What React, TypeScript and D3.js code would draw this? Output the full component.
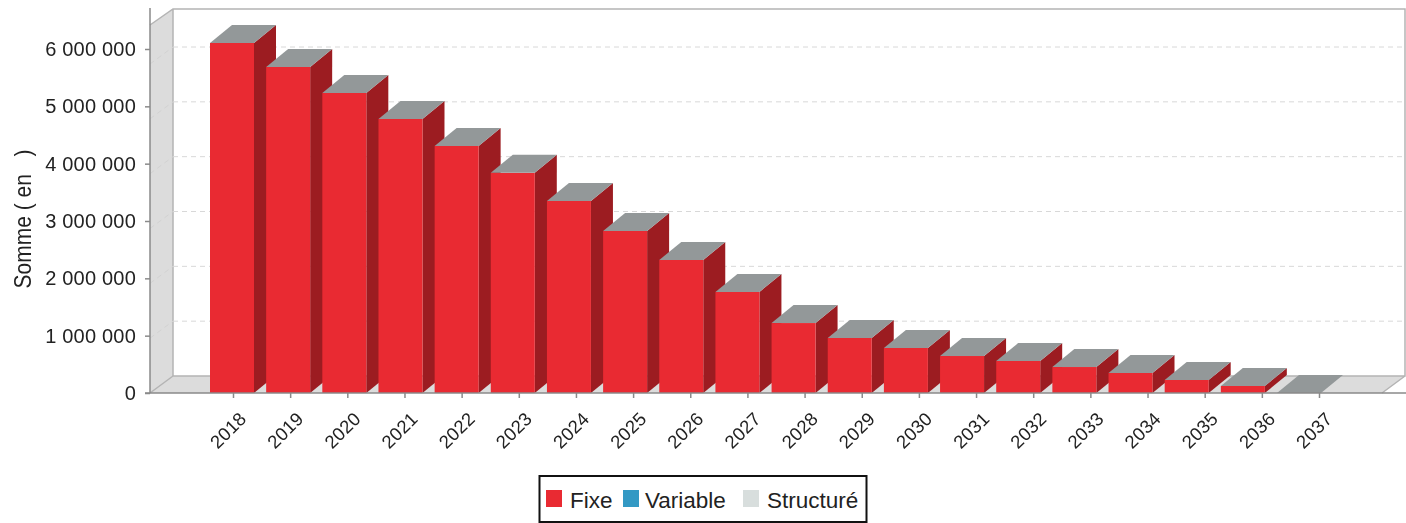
import React, { useEffect, useRef } from 'react'
import * as d3 from 'd3'

const years = ['2018', '2019', '2020', '2021', '2022', '2023', '2024', '2025', '2026', '2027',
  '2028', '2029', '2030', '2031', '2032', '2033', '2034', '2035', '2036', '2037']
const fixe = [6105000, 5686000, 5233000, 4780000, 4310000, 3840000, 3350000, 2826000, 2320000, 1762000,
  1220000, 960000, 785000, 645000, 558000, 453000, 349000, 227000, 122000, 0]
const yTicks = [0, 1000000, 2000000, 3000000, 4000000, 5000000, 6000000]
const legendItems = ['Fixe', 'Variable', 'Structuré']
const legendColors = ['#e92a32', '#3399c4', '#d8dedd']

const layout = { width: 1406, height: 523, left: 150, right: 1382, bottom: 393, top: 25, dx: 23, dy: 17 }
const barWidth = 44
const barDepthX = 22
const barDepthY = 18

const RED = '#e92a32'
const RED_SIDE = '#9c1c21'
const TOP_GREY = '#939899'
const WALL = '#dcdcdc'
const EDGE = '#b4b4b4'
const AXIS = '#8a8a8a'
const TEXT = '#222222'
const FONT = '"Liberation Sans", Arial, sans-serif'

const poly = (pts: number[][]) => pts.map(p => p.join(',')).join(' ')

export default function App() {
  const ref = useRef<SVGSVGElement>(null)

  useEffect(() => {
    const svg = d3.select(ref.current)
    svg.selectAll('*').remove()
    const { left, right, bottom, top, dx, dy } = layout

    // front scale for the bars and the axis, back wall scale for the grid
    const yScale = d3.scaleLinear().domain([0, 6000000]).range([bottom, 49])
    const yBack = d3.scaleLinear().domain([0, 6000000]).range([bottom - dy, 47])
    const xBars = d3.scalePoint().domain(years).range([210, 1277])
    const xTicks = d3.scalePoint().domain(years).range([233, 1319])

    // walls
    svg.append('polygon')
      .attr('points', poly([[left, top], [left + dx, top - 16], [left + dx, bottom - dy], [left, bottom]]))
      .attr('fill', WALL)
    svg.append('polygon')
      .attr('points', poly([[left, bottom], [left + dx, bottom - dy], [right + dx, bottom - dy], [right, bottom]]))
      .attr('fill', WALL)
    svg.append('path')
      .attr('d', `M${left},${top}L${left + dx},${top - 16}H${right + dx}V${bottom - dy}H${left + dx}V${top - 16}M${left + dx},${bottom - dy}L${left},${bottom}M${right + dx},${bottom - dy}L${right},${bottom}`)
      .attr('fill', 'none')
      .attr('stroke', EDGE)
      .attr('stroke-width', 1.5)

    // grid
    const grid = svg.append('g')
    grid.selectAll('.grid')
      .data(yTicks.slice(1))
      .join('line')
      .attr('class', 'grid')
      .attr('x1', left + dx)
      .attr('x2', right + dx)
      .attr('y1', d => yBack(d))
      .attr('y2', d => yBack(d))
      .attr('stroke', '#d8d8d8')
      .attr('stroke-dasharray', '5,4')
    grid.selectAll('.gridSide')
      .data(yTicks.slice(1))
      .join('line')
      .attr('class', 'gridSide')
      .attr('x1', left)
      .attr('x2', left + dx)
      .attr('y1', d => yBack(d) + dy)
      .attr('y2', d => yBack(d))
      .attr('stroke', '#d2d2d2')
      .attr('stroke-dasharray', '5,4')

    // bars, left to right so each front covers the side of the previous one
    const bars = svg.append('g')
      .selectAll('g')
      .data(years.map((year, i) => ({ year, value: fixe[i] })))
      .join('g')
    bars.append('polygon')
      .attr('points', d => {
        const x = xBars(d.year) as number + barWidth
        return poly([[x, yScale(d.value)], [x + barDepthX, yScale(d.value) - barDepthY], [x + barDepthX, bottom - barDepthY], [x, bottom]])
      })
      .attr('fill', RED_SIDE)
    bars.append('rect')
      .attr('x', d => xBars(d.year) as number)
      .attr('y', d => yScale(d.value))
      .attr('width', barWidth)
      .attr('height', d => bottom - yScale(d.value))
      .attr('fill', RED)
    bars.append('polygon')
      .attr('points', d => {
        const x = xBars(d.year) as number
        const y = yScale(d.value)
        return poly([[x, y], [x + barDepthX, y - barDepthY], [x + barWidth + barDepthX, y - barDepthY], [x + barWidth, y]])
      })
      .attr('fill', TOP_GREY)

    // y axis
    const yAxis = svg.append('g')
      .attr('transform', `translate(${left}, 0)`)
      .call(d3.axisLeft(yScale).tickValues(yTicks).tickSize(5).tickPadding(9)
        .tickFormat(d => d3.format(',')(d as number).replace(/,/g, ' ')))
    yAxis.select('.domain').remove()
    yAxis.append('line').attr('y1', 8).attr('y2', bottom).attr('stroke', AXIS).attr('stroke-width', 1.5)
    yAxis.selectAll('.tick line').attr('stroke', AXIS).attr('stroke-width', 1.5)
    yAxis.selectAll('.tick text')
      .attr('font-family', FONT)
      .attr('font-size', 20)
      .attr('letter-spacing', 0.2)
      .attr('fill', TEXT)

    // x axis
    const xAxis = svg.append('g')
      .attr('transform', `translate(0, ${bottom})`)
      .call(d3.axisBottom(xTicks).tickSize(5))
    xAxis.select('.domain').remove()
    xAxis.append('line').attr('x1', left - 5).attr('x2', 1406).attr('stroke', AXIS).attr('stroke-width', 1.5)
    xAxis.selectAll('.tick line').attr('stroke', AXIS).attr('stroke-width', 1.5)
    xAxis.selectAll('.tick text')
      .attr('font-family', FONT)
      .attr('font-size', 18.5)
      .attr('letter-spacing', 0.2)
      .attr('fill', TEXT)
      .attr('text-anchor', 'end')
      .attr('dy', 0)
      .attr('transform', 'translate(14, 27) rotate(-45)')
      .attr('y', 0)

    // y title
    svg.append('text')
      .attr('transform', 'translate(31, 219) rotate(-90) scale(0.89, 1)')
      .attr('text-anchor', 'middle')
      .attr('font-family', FONT)
      .attr('font-size', 23.6)
      .attr('fill', TEXT)
      .text('Somme ( en \u00a0\u00a0)')

    // legend
    const legend = svg.append('g')
    legend.append('rect')
      .attr('x', 539.5)
      .attr('y', 476)
      .attr('width', 327)
      .attr('height', 46)
      .attr('fill', 'white')
      .attr('stroke', '#111')
      .attr('stroke-width', 2)
    const legendX = d3.scaleOrdinal<string, number>().domain(legendItems).range([546, 623, 743])
    const legendTextX = d3.scaleOrdinal<string, number>().domain(legendItems).range([570, 645, 767])
    legend.selectAll('rect.key')
      .data(legendItems)
      .join('rect')
      .attr('class', 'key')
      .attr('x', d => legendX(d))
      .attr('y', 490)
      .attr('width', 16)
      .attr('height', 17)
      .attr('fill', (d, i) => legendColors[i])
    legend.selectAll('text')
      .data(legendItems)
      .join('text')
      .attr('x', d => legendTextX(d))
      .attr('y', 508)
      .attr('font-family', FONT)
      .attr('font-size', 22.5)
      .attr('fill', TEXT)
      .text(d => d)
  }, [])

  return (
    <svg ref={ref} width={layout.width} height={layout.height}
      style={{ position: 'absolute', left: 0, top: 0, filter: 'blur(0.5px)' }} />
  )
}
